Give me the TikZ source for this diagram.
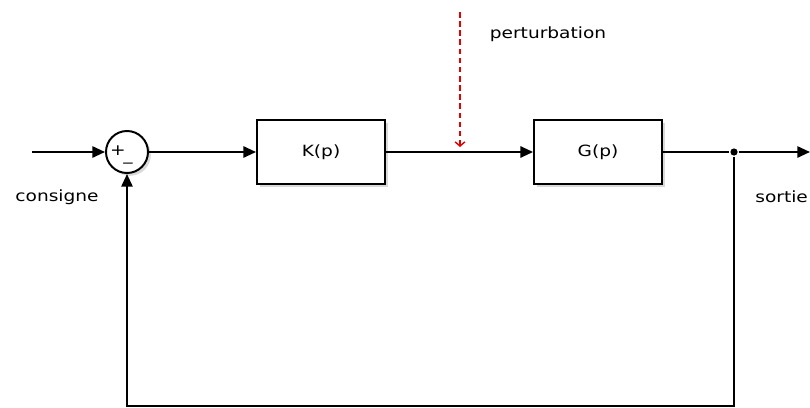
\documentclass[tikz,border=0pt]{standalone}
\usepackage{fontspec}
\setmainfont{DejaVu Sans}[FakeStretch=1.2]
\usetikzlibrary{positioning,arrows.meta,shadows}

\begin{document}
\begin{tikzpicture}[x=0.025cm, y=-0.025cm, line width=1.4pt,
      >={Triangle[length=9pt,width=8pt]},
      every node/.append style={font=\fontsize{11}{13}\selectfont},
      blockbox/.style={draw, fill=white, minimum width=3.2cm, minimum height=1.6cm,
        drop shadow={opacity=0.3, shadow xshift=2pt, shadow yshift=-2pt}},
      sumnode/.style={draw, circle, fill=white, minimum size=1.05cm,
        drop shadow={opacity=0.3, shadow xshift=2pt, shadow yshift=-2pt}},
      signal/.style={->}]
  \useasboundingbox (0,0) rectangle (810,408);
  \node (sum) [sumnode] at (127,152) {};
  \node (plus) [inner sep=0pt] at (118,151) {+};
  \node (minus) [inner sep=0pt, anchor=base] at (128,160) {\_};
  \node (K) [blockbox, right=2.675cm of sum] {K(p)};
  \node (G) [blockbox, right=3.675cm of K] {G(p)};
  \node (tap) [circle, fill, inner sep=0pt, minimum size=0.18cm] at (734,152) {};
  \coordinate (in) at (32,152);
  \coordinate (out) at (810,152);
  \coordinate (low) at (734,406);
  \coordinate (dist) at (460,12);
  \coordinate (distend) at (460,147);
  \draw[signal] (in) -- (sum);
  \draw[signal] (sum) -- (K);
  \draw[signal] (K) -- (G);
  \draw (G) -- (tap);
  \draw[signal] (tap) -- (out);
  \draw[signal] (tap) -- (low) -| (sum);
  \draw[red!90!black, dashed, line width=1pt, dash pattern=on 4pt off 2.5pt,
    -{Straight Barb[length=3pt,width=7pt]}] (dist) -- (distend);
  \node (perturbation) at (548,34) {perturbation};
  \node (consigne) at (57,197) {consigne};
  \node (sortie) [anchor=west, inner sep=1pt] at (753,197) {sortie};
\end{tikzpicture}
\end{document}
